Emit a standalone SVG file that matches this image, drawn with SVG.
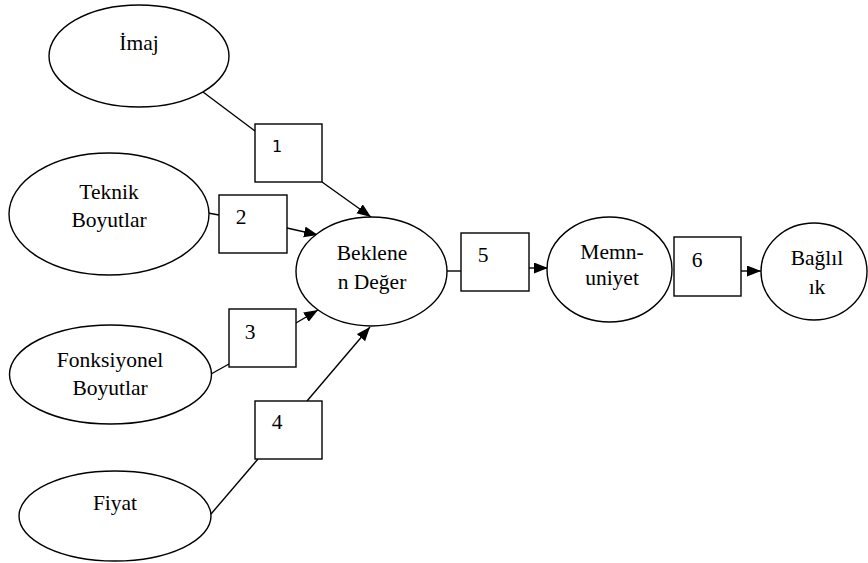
<svg xmlns="http://www.w3.org/2000/svg" width="868" height="563" viewBox="0 0 868 563">
<style>
.n{fill:#fff;stroke:#000;stroke-width:1.4}
.t{font-family:'Liberation Serif','Times New Roman','DejaVu Serif',serif;font-size:21.5px;fill:#000;text-anchor:middle;dominant-baseline:central}
.s{font-family:'DejaVu Sans',sans-serif;font-size:16px;fill:#000;text-anchor:middle;dominant-baseline:central}
.c{stroke:#000;stroke-width:1.4;fill:none}
.a{marker-end:url(#ah)}
</style>
<defs>
<marker id="ah" markerUnits="userSpaceOnUse" markerWidth="15" markerHeight="12" refX="14" refY="5.5" orient="auto">
<path d="M0,0 L14,5.5 L0,11 z" fill="#000"/>
</marker>
</defs>
<rect width="868" height="563" fill="#fff"/>
<g id="connectors">
<line class="c" x1="203" y1="92" x2="255" y2="131"/>
<line class="c a" x1="322" y1="182" x2="371" y2="217"/>
<line class="c" x1="208" y1="213" x2="219" y2="215"/>
<line class="c a" x1="287" y1="228" x2="318" y2="235"/>
<line class="c" x1="211" y1="374" x2="229" y2="364"/>
<line class="c a" x1="296" y1="323" x2="318" y2="310"/>
<line class="c" x1="211" y1="514" x2="258" y2="459"/>
<line class="c a" x1="307" y1="401" x2="370" y2="327"/>
<line class="c" x1="447" y1="271" x2="461" y2="271"/>
<line class="c a" x1="529" y1="268" x2="548" y2="268"/>
<line class="c a" x1="741" y1="271" x2="761" y2="271"/>
</g>
<g id="imaj"><ellipse class="n" cx="139" cy="56" rx="90" ry="51"/><text class="t" font-family="Liberation Serif, serif" x="139" y="43">İmaj</text></g>
<g id="teknik"><ellipse class="n" cx="109" cy="214" rx="100" ry="61"/><text class="t" font-family="Liberation Serif, serif" x="109" y="192">Teknik</text><text class="t" font-family="Liberation Serif, serif" x="109" y="220">Boyutlar</text></g>
<g id="fonksiyonel"><ellipse class="n" cx="110.5" cy="374.5" rx="101" ry="49.5"/><text class="t" font-family="Liberation Serif, serif" x="110" y="360">Fonksiyonel</text><text class="t" font-family="Liberation Serif, serif" x="110" y="388">Boyutlar</text></g>
<g id="fiyat"><ellipse class="n" cx="115" cy="516" rx="96" ry="45"/><text class="t" font-family="Liberation Serif, serif" x="115" y="503">Fiyat</text></g>
<g id="beklenen"><ellipse class="n" cx="371.5" cy="271.5" rx="75.5" ry="54.5"/><text class="t" font-family="Liberation Serif, serif" x="372" y="253">Beklene</text><text class="t" font-family="Liberation Serif, serif" x="372" y="282">n Değer</text></g>
<g id="memnuniyet"><ellipse class="n" cx="609.5" cy="269.5" rx="62.5" ry="52.5"/><text class="t" font-family="Liberation Serif, serif" x="612" y="252">Memn-</text><text class="t" font-family="Liberation Serif, serif" x="612" y="278">uniyet</text></g>
<g id="baglilik"><ellipse class="n" cx="814" cy="271.5" rx="53" ry="48.5"/><text class="t" font-family="Liberation Serif, serif" x="817" y="258">Bağlıl</text><text class="t" font-family="Liberation Serif, serif" x="817" y="287">ık</text></g>
<g id="box1"><rect class="n" x="255" y="124" width="67" height="58"/><text class="s" x="277" y="146">1</text></g>
<g id="box2"><rect class="n" x="219" y="195" width="68" height="58"/><text class="t" font-family="Liberation Serif, serif" x="241" y="217">2</text></g>
<g id="box3"><rect class="n" x="229" y="309" width="67" height="58"/><text class="t" font-family="Liberation Serif, serif" x="250" y="332">3</text></g>
<g id="box4"><rect class="n" x="255" y="401" width="67" height="58"/><text class="t" font-family="Liberation Serif, serif" x="277" y="422">4</text></g>
<g id="box5"><rect class="n" x="461" y="233" width="68" height="58"/><text class="t" font-family="Liberation Serif, serif" x="483" y="255">5</text></g>
<g id="box6"><rect class="n" x="674" y="237" width="67" height="59"/><text class="t" font-family="Liberation Serif, serif" x="697" y="260">6</text></g>
</svg>
